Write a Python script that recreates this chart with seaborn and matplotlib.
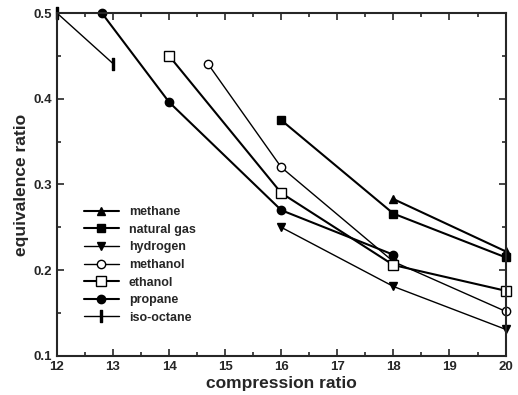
import matplotlib
matplotlib.use("Agg")
import matplotlib.pyplot as plt
import seaborn as sns
import pandas as pd
from matplotlib.ticker import MultipleLocator

# ==============================
# Data
# ==============================
methane_cr     = [18, 20]
methane_phi    = [0.283, 0.222]
natgas_cr      = [16, 18, 20]
natgas_phi     = [0.375, 0.266, 0.215]
hydrogen_cr    = [16, 18, 20]
hydrogen_phi   = [0.250, 0.181, 0.131]
methanol_cr    = [14.7, 16, 18, 20]
methanol_phi   = [0.440, 0.320, 0.210, 0.152]
ethanol_cr     = [14, 16, 18, 20]
ethanol_phi    = [0.450, 0.290, 0.206, 0.176]
propane_cr     = [12.8, 14, 16, 18]
propane_phi    = [0.500, 0.396, 0.270, 0.218]
isooctane_cr   = [12, 13]
isooctane_phi  = [0.500, 0.441]

series_names = ["methane", "natural gas", "hydrogen", "methanol",
                "ethanol", "propane", "iso-octane"]

frames = []
for name, cr, phi in zip(series_names,
                         [methane_cr, natgas_cr, hydrogen_cr, methanol_cr,
                          ethanol_cr, propane_cr, isooctane_cr],
                         [methane_phi, natgas_phi, hydrogen_phi, methanol_phi,
                          ethanol_phi, propane_phi, isooctane_phi]):
    frames.append(pd.DataFrame({"fuel": name, "cr": cr, "phi": phi}))
df = pd.concat(frames, ignore_index=True)

# styles: marker, face colour, line width, marker size
styles = {
    "methane":     ("^", "black", 1.5, 6),
    "natural gas": ("s", "black", 1.5, 6),
    "hydrogen":    ("v", "black", 1.0, 6),
    "methanol":    ("o", "white", 1.0, 6),
    "ethanol":     ("s", "white", 1.5, 7),
    "propane":     ("o", "black", 1.5, 6),
    "iso-octane":  (r"$\mathrm{I}$", "black", 1.0, 8),
}

# ==============================
# Plot
# ==============================
sns.set_style("ticks")
plt.rcParams['font.family'] = ['Liberation Sans', 'DejaVu Sans']

fig = plt.figure(figsize=(5.18, 3.95), dpi=100)
ax = fig.add_axes([0.110, 0.099, 0.866, 0.868])

for name in series_names:
    m, fc, lw, ms = styles[name]
    sns.lineplot(data=df[df["fuel"] == name], x="cr", y="phi", ax=ax,
                 sort=False, color="black", lw=lw, marker=m, markersize=ms,
                 markerfacecolor=fc, markeredgecolor="black", markeredgewidth=1.0,
                 label=name, clip_on=False)

ax.set_xlim(12, 20)
ax.set_ylim(0.1, 0.5)
ax.xaxis.set_major_locator(MultipleLocator(1))
ax.xaxis.set_minor_locator(MultipleLocator(0.5))
ax.yaxis.set_major_locator(MultipleLocator(0.1))
ax.yaxis.set_minor_locator(MultipleLocator(0.05))
ax.yaxis.set_major_formatter(matplotlib.ticker.FormatStrFormatter('%.1f'))
ax.tick_params(which='both', direction='in', top=True, right=True,
               labelsize=9.5, width=1.2)
ax.tick_params(which='major', length=5)
ax.tick_params(which='minor', length=3)
for lbl in ax.get_xticklabels() + ax.get_yticklabels():
    lbl.set_fontweight('bold')
for sp in ax.spines.values():
    sp.set_linewidth(1.5)

ax.set_xlabel("compression ratio", fontsize=12.5, fontweight='bold', labelpad=2)
ax.set_ylabel("equivalence ratio", fontsize=12.5, fontweight='bold', labelpad=3)

ax.legend(loc='upper left', bbox_to_anchor=(0.035, 0.47), frameon=False,
          handlelength=2.8, labelspacing=0.45, handletextpad=0.8,
          prop={'weight': 'bold', 'size': 9})

fig.savefig("out.png", dpi=100)
